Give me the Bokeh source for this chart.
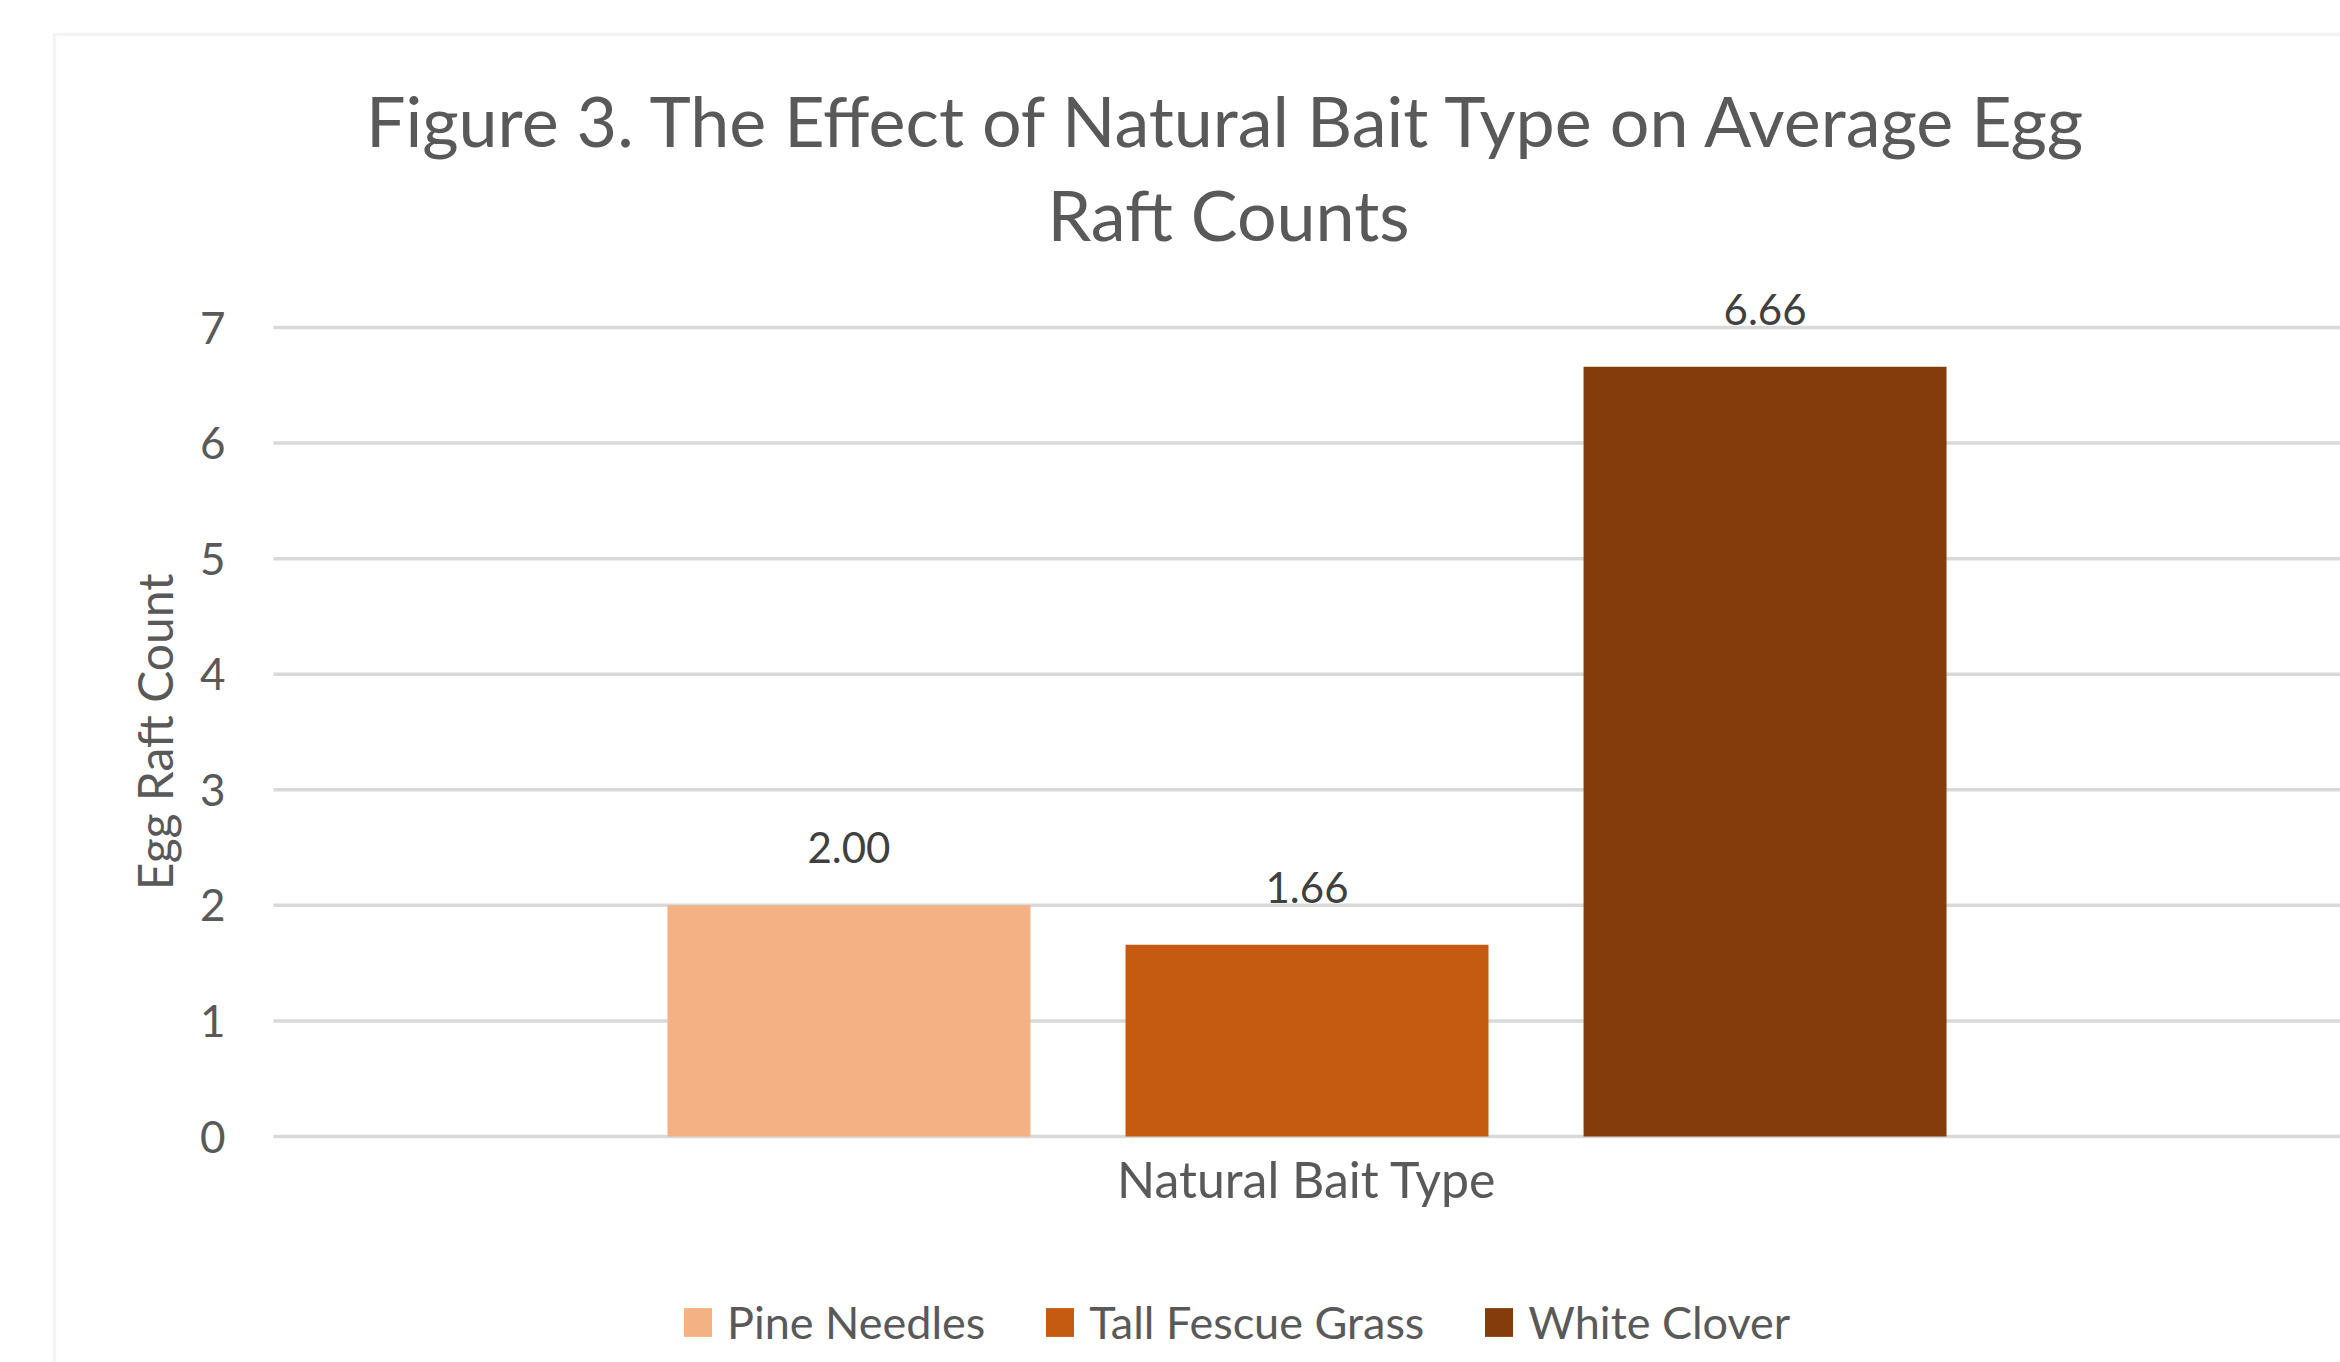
from bokeh.plotting import figure
from bokeh.models import (Range1d, FixedTicker, Label, LabelSet, ColumnDataSource,
                          Legend, LegendItem, BoxAnnotation)
from bokeh.core.properties import value
from bokeh.embed import file_html
from bokeh.resources import INLINE

# ---- data ----
title_lines = ["Figure 3. The Effect of Natural Bait Type on Average Egg", "Raft Counts"]
categories = ["Natural Bait Type"]
series = ["Pine Needles", "Tall Fescue Grass", "White Clover"]
values = [2.00, 1.66, 6.66]
value_labels = ["2.00", "1.66", "6.66"]
colors = ["#F4B183", "#C55A11", "#843C0C"]
y_ticks = [0, 1, 2, 3, 4, 5, 6, 7]
y_axis_title = "Egg Raft Count"

FONT = "Lato"
TEXT = "#595959"
GRID = "#D9D9D9"

W, H = 2340, 1362
# plot area in page pixels
PA_LEFT, PA_RIGHT, PA_Y0, PA_Y7 = 273, 2340, 1136, 327
ux = PA_RIGHT - PA_LEFT                 # px per x unit (category slot = 1 unit)
uy = (PA_Y0 - PA_Y7) / 7.0              # px per y unit

x_start = -0.5 - PA_LEFT / ux
x_end = -0.5 + (W - PA_LEFT) / ux
y_start = -(H - PA_Y0) / uy
y_end = 7 + PA_Y7 / uy

p = figure(width=W, height=H,
           x_range=Range1d(x_start, x_end), y_range=Range1d(y_start, y_end),
           output_backend="svg", toolbar_location=None,
           min_border=0, min_border_left=0, min_border_right=0,
           min_border_top=0, min_border_bottom=0)
p.outline_line_color = None
p.background_fill_color = "white"
p.border_fill_color = "white"
p.xgrid.visible = False
p.ygrid.visible = False

# gridlines across the plot area only
p.segment(x0=[-0.5] * len(y_ticks), x1=[0.5] * len(y_ticks), y0=y_ticks, y1=y_ticks,
          line_color=GRID, line_width=3.5)

# y axis drawn at the plot-area left edge
p.yaxis.fixed_location = -0.5
p.yaxis.bounds = (0, 7)
p.yaxis.ticker = FixedTicker(ticks=y_ticks)
p.yaxis.axis_line_color = None
p.yaxis.major_tick_line_color = None
p.yaxis.minor_tick_line_color = None
p.yaxis.major_tick_out = 0
p.yaxis.major_label_standoff = 48
p.yaxis.major_label_text_font = FONT
p.yaxis.major_label_text_font_size = "44px"
p.yaxis.major_label_text_color = TEXT
p.yaxis.axis_label = y_axis_title
p.yaxis.axis_label_text_font = FONT
p.yaxis.axis_label_text_font_size = "48px"
p.yaxis.axis_label_text_font_style = "normal"
p.yaxis.axis_label_text_color = TEXT
p.yaxis.axis_label_standoff = 14

# x axis drawn at y = 0
cat_pos = list(range(len(categories)))
p.xaxis.fixed_location = 0
p.xaxis.ticker = FixedTicker(ticks=cat_pos)
p.xaxis.major_label_overrides = {i: c for i, c in zip(cat_pos, categories)}
p.xaxis.axis_line_color = None
p.xaxis.major_tick_line_color = None
p.xaxis.minor_tick_line_color = None
p.xaxis.major_tick_out = 0
p.xaxis.major_label_standoff = 12
p.xaxis.major_label_text_font = FONT
p.xaxis.major_label_text_font_size = "50px"
p.xaxis.major_label_text_color = TEXT

# bars (clustered within the single category)
bar_width = 0.1756
offsets = [-0.2216, 0.0, 0.2216]
items = []
for name, val, lab, col, off in zip(series, values, value_labels, colors, offsets):
    src = ColumnDataSource(dict(x=[c + off for c in cat_pos], value=[val], label=[lab]))
    r = p.vbar(x="x", top="value", bottom=0, width=bar_width, source=src,
               fill_color=col, line_color=None)
    items.append(LegendItem(label=name, renderers=[r]))
    p.add_layout(LabelSet(x="x", y="value", text="label", source=src, y_offset=42,
                          text_align="center", text_baseline="alphabetic",
                          text_font=value(FONT), text_font_size=value("42px"),
                          text_color="#404040"))

legend = Legend(items=items, orientation="horizontal", location=(680, H - 1349),
                glyph_width=35, glyph_height=36, label_standoff=12, spacing=57,
                padding=0, margin=0, border_line_color=None,
                background_fill_alpha=0, label_text_font=FONT,
                label_text_font_size="45px", label_text_color=TEXT)
p.add_layout(legend, "center")

# title (two lines)
for txt, base in zip(title_lines, [119, 213]):
    p.add_layout(Label(x=1228, y=H - base, x_units="screen", y_units="screen",
                       text=txt, text_align="center", text_baseline="alphabetic",
                       text_font=FONT, text_font_size="70px", text_color=TEXT))

# chart-area border (continues past the right/bottom edges)
p.add_layout(BoxAnnotation(left=54, right=W + 60, top=H - 34, bottom=-100,
                           left_units="screen", right_units="screen",
                           top_units="screen", bottom_units="screen",
                           fill_alpha=0, line_color=GRID, line_width=3.5))

open("out.html", "w").write(file_html(p, INLINE))
